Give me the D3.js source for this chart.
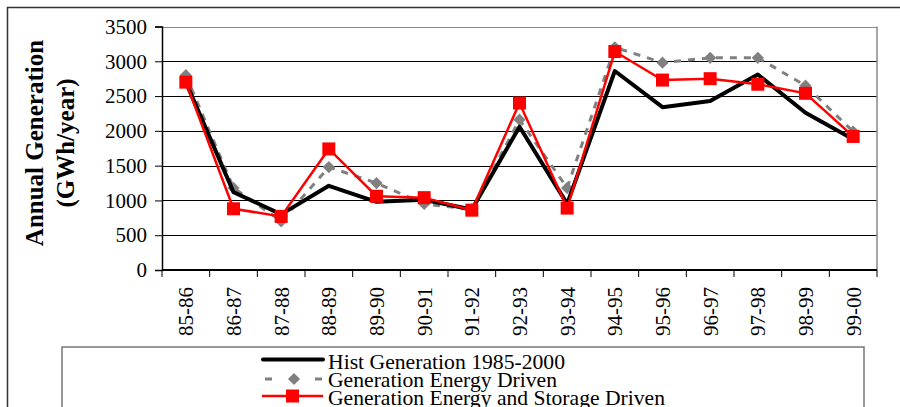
<!DOCTYPE html>
<html>
<head>
<meta charset="utf-8">
<script src="https://cdn.jsdelivr.net/npm/d3@7/dist/d3.min.js"></script>
<style>
  body { margin: 0; background: #fff; }
  text { font-family: "Liberation Serif", "Times New Roman", serif; }
</style>
</head>
<body>
<svg id="chart" width="900" height="407"></svg>
<script>
var seasons = ["85-86","86-87","87-88","88-89","89-90","90-91","91-92","92-93","93-94","94-95","95-96","96-97","97-98","98-99","99-00"]
var histGen = [2700,1120,800,1210,980,1010,870,2060,950,2860,2340,2430,2810,2260,1880]
var energyDriven = [2800,1180,700,1480,1250,950,870,2160,1180,3200,2980,3050,3050,2650,1990]
var storageDriven = [2700,880,770,1740,1060,1040,860,2400,890,3140,2730,2750,2670,2540,1920]
var yTicks = [0,500,1000,1500,2000,2500,3000,3500]
var legendLabels = ["Hist Generation 1985-2000","Generation Energy Driven","Generation Energy and Storage Driven"]

var svg = d3.select("#chart")

var plot = {left:162, right:877, top:26.5, bottom:270}

// outer frame
svg.append("path")
   .attr("d", "M7.5,410 V7.5 H905")
   .attr("fill", "none")
   .attr("stroke", "#333")
   .attr("stroke-width", 1.5)

var xScale = d3.scaleBand()
               .domain(seasons)
               .range([plot.left, plot.right])

var yScale = d3.scaleLinear()
               .domain([0, 3500])
               .range([plot.bottom, plot.top])

// grid lines
svg.append("g").selectAll("line").data(yTicks.slice(1)).enter()
   .append("line")
   .attr("x1", plot.left)
   .attr("x2", plot.right)
   .attr("y1", function(d){ return Math.round(yScale(d)) + 0.5 })
   .attr("y2", function(d){ return Math.round(yScale(d)) + 0.5 })
   .attr("stroke", function(d){ return d == 3500 ? "#888" : "#000" })
   .attr("stroke-width", 1)

// right border of plot area
svg.append("line")
   .attr("x1", plot.right).attr("x2", plot.right)
   .attr("y1", plot.top).attr("y2", plot.bottom)
   .attr("stroke", "#888").attr("stroke-width", 1.5)

var yAxis = d3.axisLeft(yScale).tickValues(yTicks).tickSize(7).tickPadding(8).tickFormat(d3.format("d"))
var gy = svg.append("g")
            .attr("transform", "translate(" + plot.left + ",0)")
            .call(yAxis)
gy.attr("font-family", null)
gy.select(".domain").attr("stroke", "#000").attr("stroke-width", 1.5)
gy.selectAll(".tick line").attr("stroke", "#000")
gy.selectAll("text")
  .attr("font-size", "21px")
  .attr("fill", "#000")

// x axis with ticks on band edges
var gx = svg.append("g")
            .attr("transform", "translate(0," + plot.bottom + ")")
gx.append("line")
  .attr("x1", plot.left).attr("x2", plot.right)
  .attr("stroke", "#000").attr("stroke-width", 2)
gx.selectAll(".edge").data(seasons.concat(["end"])).enter()
  .append("line")
  .attr("class", "edge")
  .attr("x1", function(d, i){ return plot.left + i * xScale.bandwidth() })
  .attr("x2", function(d, i){ return plot.left + i * xScale.bandwidth() })
  .attr("y1", 0).attr("y2", 7)
  .attr("stroke", "#000").attr("stroke-width", 1)
gx.selectAll("text").data(seasons).enter()
  .append("text")
  .attr("transform", function(d){
    return "translate(" + (xScale(d) + xScale.bandwidth() / 2) + ",17) rotate(-90)"
  })
  .attr("text-anchor", "end")
  .attr("dy", "0.35em")
  .attr("font-size", "21px")
  .attr("fill", "#000")
  .text(function(d){ return d })

// y axis title
var title = svg.append("text")
               .attr("transform", "translate(34,143) rotate(-90)")
               .attr("text-anchor", "middle")
               .attr("font-size", "25px")
               .attr("font-weight", "bold")
               .attr("fill", "#000")
title.append("tspan").attr("x", 0).attr("dy", "0.35em").text("Annual Generation")
title.append("tspan").attr("x", 0).attr("dy", "1.25em").text("(GWh/year)")

var line = d3.line()
             .x(function(d, i){ return xScale(seasons[i]) + xScale.bandwidth() / 2 })
             .y(function(d){ return yScale(d) })

var diamond = d3.symbol().type(d3.symbolDiamond2).size(95)

// energy driven (gray dashed, diamonds)
svg.append("path")
   .attr("d", line(energyDriven))
   .attr("fill", "none")
   .attr("stroke", "#808080")
   .attr("stroke-width", 3)
   .attr("stroke-dasharray", "7,7")
svg.append("g").selectAll("path").data(energyDriven).enter()
   .append("path")
   .attr("d", diamond)
   .attr("transform", function(d, i){
     return "translate(" + (xScale(seasons[i]) + xScale.bandwidth() / 2) + "," + yScale(d) + ")"
   })
   .attr("fill", "#808080")

// historic (black thick)
svg.append("path")
   .attr("d", line(histGen))
   .attr("fill", "none")
   .attr("stroke", "#000")
   .attr("stroke-width", 4)
   .attr("stroke-linejoin", "round")

// energy and storage driven (red, squares)
svg.append("path")
   .attr("d", line(storageDriven))
   .attr("fill", "none")
   .attr("stroke", "#ff0000")
   .attr("stroke-width", 2.5)
svg.append("g").selectAll("rect").data(storageDriven).enter()
   .append("rect")
   .attr("x", function(d, i){ return xScale(seasons[i]) + xScale.bandwidth() / 2 - 6.5 })
   .attr("y", function(d){ return yScale(d) - 6.5 })
   .attr("width", 13)
   .attr("height", 13)
   .attr("fill", "#ff0000")

// legend
svg.append("rect")
   .attr("x", 62).attr("y", 347)
   .attr("width", 802).attr("height", 80)
   .attr("fill", "#fff")
   .attr("stroke", "#777")
   .attr("stroke-width", 1.5)

var legendY = [359.5, 379, 396]
var lg = svg.append("g")

lg.append("line")
  .attr("x1", 263).attr("x2", 323)
  .attr("y1", legendY[0]).attr("y2", legendY[0])
  .attr("stroke", "#000").attr("stroke-width", 4).attr("stroke-linecap", "round")

lg.append("line")
  .attr("x1", 265).attr("x2", 322)
  .attr("y1", legendY[1]).attr("y2", legendY[1])
  .attr("stroke", "#808080").attr("stroke-width", 3).attr("stroke-dasharray", "7,18")
lg.append("path")
  .attr("d", diamond)
  .attr("transform", "translate(294," + legendY[1] + ")")
  .attr("fill", "#808080")

lg.append("line")
  .attr("x1", 262).attr("x2", 323)
  .attr("y1", legendY[2]).attr("y2", legendY[2])
  .attr("stroke", "#ff0000").attr("stroke-width", 2.5)
lg.append("rect")
  .attr("x", 286).attr("y", legendY[2] - 6.5)
  .attr("width", 13).attr("height", 13)
  .attr("fill", "#ff0000")

// legend text: tall glyphs on tight rows, as in the original
lg.selectAll("text").data(legendLabels).enter()
  .append("text")
  .attr("transform", function(d, i){ return "translate(328," + [369, 387, 405][i] + ") scale(1,1.1)" })
  .attr("font-size", "19px")
  .attr("textLength", function(d, i){ return [237, 229, 337][i] })
  .attr("lengthAdjust", "spacingAndGlyphs")
  .attr("fill", "#000")
  .text(function(d){ return d })
</script>
</body>
</html>
